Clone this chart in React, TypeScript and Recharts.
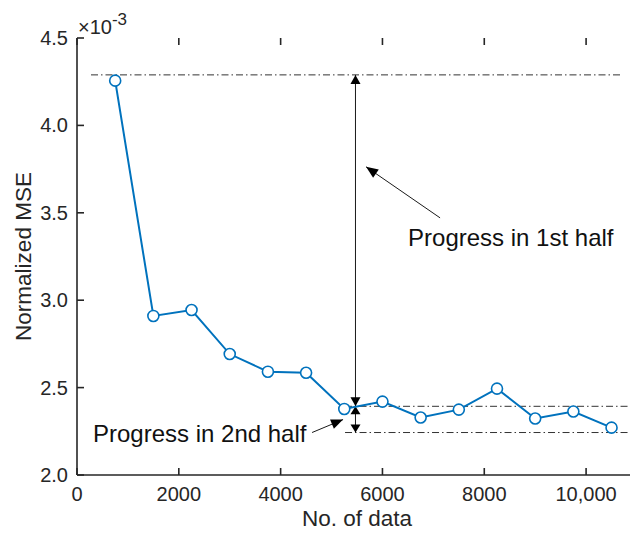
import React from 'react';
import {
  ComposedChart,
  Line,
  XAxis,
  YAxis,
  ReferenceLine,
  ReferenceDot,
  Label
} from 'recharts';

// training set size vs. normalized MSE (x1e-3)
const dataCounts = [750, 1500, 2250, 3000, 3750, 4500, 5250, 6000, 6750, 7500, 8250, 9000, 9750, 10500];
const mseValues = [4.256, 2.91, 2.944, 2.692, 2.591, 2.585, 2.378, 2.42, 2.329, 2.374, 2.494, 2.323, 2.363, 2.271];

const xTicks = [0, 2000, 4000, 6000, 8000, 10000];
const yTicks = [2.0, 2.5, 3.0, 3.5, 4.0, 4.5];
const xDomain = [0, 11000];
const yDomain = [2.0, 4.5];

// dash-dot guide levels: start, halfway, end
const startLevel = 4.289;
const halfLevel = 2.393;
const endLevel = 2.243;
const arrowX = 5470;

const data = dataCounts.map((n, i) => ({ n, mse: mseValues[i] }));

const FONT = '"Liberation Sans", Arial, Helvetica, sans-serif';
const AXIS = '#262626';
const BLUE = '#0072BD';
const GUIDE = '#333';
const TICK_LEN = 7;

const fmtX = (v: number) => (v >= 10000 ? v.toLocaleString('en-US') : String(v));

const BottomTick = (props: any) => {
  const { x, y, payload } = props;
  return (
    <text x={x} y={y + 15} textAnchor="middle" fontSize={20} fontFamily={FONT} fill={AXIS}>
      {fmtX(payload.value)}
    </text>
  );
};

const LeftTick = (props: any) => {
  const { x, y, payload } = props;
  return (
    <text x={x} y={y + 7} textAnchor="end" fontSize={20} fontFamily={FONT} fill={AXIS}>
      {payload.value.toFixed(1)}
    </text>
  );
};

// short inward tick mark from an axis point, (dx, dy) gives direction
const tickMark = (dx: number, dy: number) => (props: any) => {
  const { cx, cy } = props;
  return (
    <line
      x1={cx}
      y1={cy}
      x2={cx + dx * TICK_LEN}
      y2={cy + dy * TICK_LEN}
      stroke={AXIS}
      strokeWidth={1.6}
    />
  );
};

const headPoints = (tx: number, ty: number, fx: number, fy: number, len: number, half: number) => {
  const a = Math.atan2(ty - fy, tx - fx);
  const bx = tx - len * Math.cos(a);
  const by = ty - len * Math.sin(a);
  const px = -Math.sin(a) * half;
  const py = Math.cos(a) * half;
  return `${tx},${ty} ${bx + px},${by + py} ${bx - px},${by - py}`;
};

// line with filled arrowheads; both ends or just the end
const arrow = (both: boolean, len: number, half: number) => (props: any) => {
  const { x1, y1, x2, y2 } = props;
  return (
    <g>
      <line x1={x1} y1={y1} x2={x2} y2={y2} stroke="#1a1a1a" strokeWidth={1} />
      <polygon points={headPoints(x2, y2, x1, y1, len, half)} fill="#000" />
      {both && <polygon points={headPoints(x1, y1, x2, y2, len, half)} fill="#000" />}
    </g>
  );
};

const note = (text: string) => (props: any) => (
  <text x={props.cx} y={props.cy} fontSize={24} fontFamily={FONT} fill="#111">
    {text}
  </text>
);

const guide = {
  stroke: GUIDE,
  strokeWidth: 1,
  strokeDasharray: '7 3 1.5 3'
};

export default function App() {
  return (
    <div
      style={{
        position: 'fixed',
        left: 0,
        top: 0,
        width: 630,
        height: 537,
        overflow: 'hidden',
        background: '#fff'
      }}
    >
      <ComposedChart
        width={660}
        height={537}
        data={data}
        margin={{ top: 38, right: 23, left: 0, bottom: 0 }}
        style={{ fontFamily: FONT }}
      >
        <XAxis
          dataKey="n"
          type="number"
          domain={xDomain}
          ticks={xTicks}
          height={62}
          tickSize={0}
          tickMargin={11}
          axisLine={{ stroke: AXIS, strokeWidth: 1.6 }}
          tickLine={false}
          tick={<BottomTick />}
        >
          <Label
            content={(p: any) => {
              const vb = p.viewBox;
              const sx = (v: number) => vb.x + ((v - xDomain[0]) / (xDomain[1] - xDomain[0])) * vb.width;
              return (
                <g>
                  {xTicks.map((t) => (
                    <line
                      key={t}
                      x1={sx(t)}
                      y1={vb.y}
                      x2={sx(t)}
                      y2={vb.y - TICK_LEN}
                      stroke={AXIS}
                      strokeWidth={1.6}
                    />
                  ))}
                  <text
                    x={vb.x + vb.width / 2}
                    y={vb.y + 51}
                    textAnchor="middle"
                    fontSize={22.5}
                    fontFamily={FONT}
                    fill={AXIS}
                  >
                    No. of data
                  </text>
                </g>
              );
            }}
          />
        </XAxis>
        <XAxis
          xAxisId="top"
          orientation="top"
          type="number"
          dataKey="n"
          domain={xDomain}
          height={0}
          tick={false}
          tickLine={false}
          axisLine={{ stroke: AXIS, strokeWidth: 1.6 }}
        />
        <YAxis
          type="number"
          domain={yDomain}
          ticks={yTicks}
          width={77}
          tickSize={0}
          tickMargin={9}
          axisLine={{ stroke: AXIS, strokeWidth: 1.6 }}
          tickLine={false}
          tick={<LeftTick />}
        >
          <Label
            content={(p: any) => {
              const vb = p.viewBox;
              const cy = vb.y + vb.height / 2;
              const ax = vb.x + vb.width;
              const sy = (v: number) =>
                vb.y + vb.height - ((v - yDomain[0]) / (yDomain[1] - yDomain[0])) * vb.height;
              return (
                <g>
                  {yTicks.map((t) => (
                    <line
                      key={t}
                      x1={ax}
                      y1={sy(t)}
                      x2={ax + TICK_LEN}
                      y2={sy(t)}
                      stroke={AXIS}
                      strokeWidth={1.6}
                    />
                  ))}
                  <text
                    x={31}
                    y={cy}
                    transform={`rotate(-90, 31, ${cy})`}
                    textAnchor="middle"
                    fontSize={22.5}
                    fontFamily={FONT}
                    fill={AXIS}
                  >
                    Normalized MSE
                  </text>
                  <text x={ax + 1} y={vb.y - 4} fontSize={20} fontFamily={FONT} fill={AXIS}>
                    ×10
                    <tspan dy={-9} fontSize={17}>
                      -3
                    </tspan>
                  </text>
                </g>
              );
            }}
          />
        </YAxis>

        <ReferenceLine segment={[{ x: 275, y: startLevel }, { x: 10668, y: startLevel }]} {...guide} />
        <ReferenceLine segment={[{ x: 5265, y: halfLevel }, { x: 11000, y: halfLevel }]} {...guide} />
        <ReferenceLine segment={[{ x: 5265, y: endLevel }, { x: 11000, y: endLevel }]} {...guide} />

        <ReferenceLine
          segment={[{ x: arrowX, y: halfLevel }, { x: arrowX, y: startLevel }]}
          shape={arrow(true, 9, 5)}
        />
        <ReferenceLine
          segment={[{ x: arrowX, y: endLevel }, { x: arrowX, y: halfLevel }]}
          shape={arrow(true, 8, 5)}
        />
        <ReferenceLine
          segment={[{ x: 7132, y: 3.471 }, { x: 5678, y: 3.763 }]}
          shape={arrow(false, 12, 5)}
        />
        <ReferenceLine
          segment={[{ x: 4617, y: 2.243 }, { x: 5226, y: 2.317 }]}
          shape={arrow(false, 12, 5)}
        />

        <ReferenceDot x={6503} y={3.311} r={0} shape={note('Progress in 1st half')} />
        <ReferenceDot x={314} y={2.187} r={0} shape={note('Progress in 2nd half')} />

        <Line
          dataKey="mse"
          stroke={BLUE}
          strokeWidth={2}
          dot={{ r: 5.5, stroke: BLUE, strokeWidth: 1.6, fill: '#fff' }}
          activeDot={false}
          isAnimationActive={false}
        />

        {/* inward ticks along the top edge of the box */}
        {xTicks.map((t) => (
          <ReferenceDot key={`xt${t}`} x={t} y={yDomain[1]} r={0} ifOverflow="visible" shape={tickMark(0, 1)} />
        ))}
      </ComposedChart>
    </div>
  );
}
